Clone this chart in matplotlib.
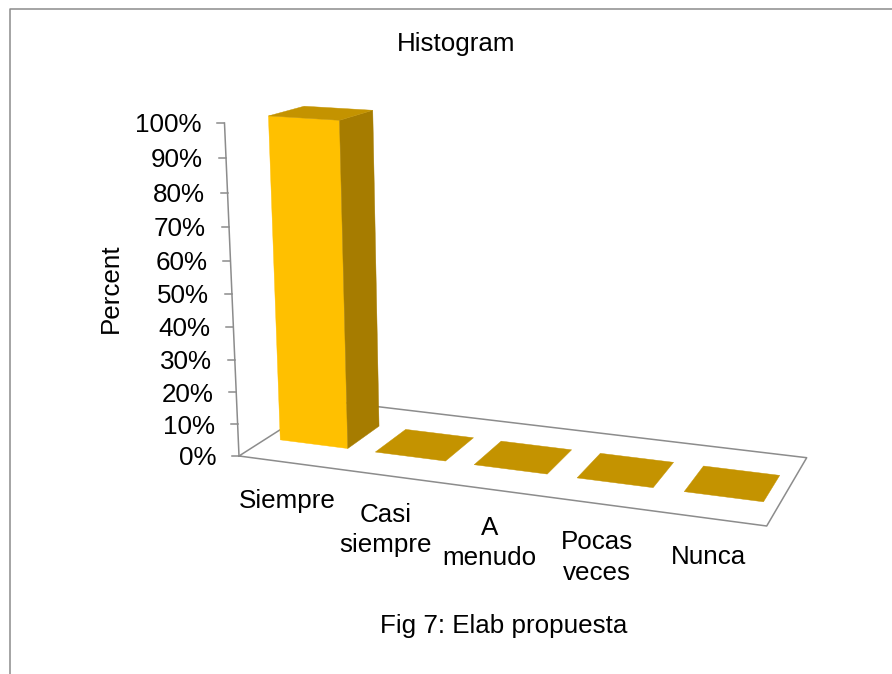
import numpy as np
import matplotlib.pyplot as plt
from matplotlib.patches import Polygon

# data
categories = ['Siempre', 'Casi\nsiempre', 'A\nmenudo', 'Pocas\nveces', 'Nunca']
percent = [100, 0, 0, 0, 0]
yticks = [0, 10, 20, 30, 40, 50, 60, 70, 80, 90, 100]
ytick_labels = [f'{t}%' for t in yticks]

plt.rcParams['font.family'] = ['Liberation Sans', 'DejaVu Sans']
FS = 18.7
GRAY = '#8c8c8c'
FRONT, SIDE, TOP = '#FFC000', '#A67C00', '#C49300'

W, H = 892, 674
fig = plt.figure(figsize=(W / 100, H / 100), dpi=100)
ax = fig.add_axes([0, 0, 1, 1])
ax.set_xlim(0, W)
ax.set_ylim(H, 0)
ax.axis('off')

# camera: floor corners (category, depth) -> pixels, plus vertical vanishing point
floor_uv = np.array([[0, 0], [5, 0], [5, 1], [0, 1]], float)
floor_px = np.array([[239, 456], [766.7, 526], [806.7, 457.7], [326, 400.5]])
vert_vp = np.array([498.0, 6400.0, 1.0])
axis_top = np.array([225.3, 123.5, 1.0])


def homography(src, dst):
    rows = []
    for (x, y), (u, v) in zip(src, dst):
        rows.append([x, y, 1, 0, 0, 0, -u * x, -u * y, -u])
        rows.append([0, 0, 0, x, y, 1, -v * x, -v * y, -v])
    _, _, vt = np.linalg.svd(np.array(rows))
    return vt[-1].reshape(3, 3)


Hm = homography(floor_uv, floor_px)
M = np.column_stack([vert_vp, -axis_top])
lam, mu = np.linalg.lstsq(M, -Hm[:, 2], rcond=None)[0]
P = np.column_stack([Hm[:, 0], lam * vert_vp, Hm[:, 1], Hm[:, 2]])


def proj(X, Y, Z):
    p = P @ np.array([X, Y, Z, 1.0])
    return p[:2] / p[2]


def face(pts, color, z):
    ax.add_patch(Polygon([proj(*p) for p in pts], closed=True, facecolor=color,
                         edgecolor=color, lw=0.3, zorder=z))


# frame around the chart
ax.plot([9.5, 9.5, W], [H, 8.5, 8.5], color=GRAY, lw=1.1, zorder=0)

# floor outline
corners = [proj(0, 0, 0), proj(5, 0, 0), proj(5, 0, 1), proj(0, 0, 1), proj(0, 0, 0)]
ax.plot([c[0] for c in corners], [c[1] for c in corners], color=GRAY, lw=1.1, zorder=1)

# vertical axis + ticks
a0, a1 = proj(0, 0, 0), proj(0, 1, 0)
ax.plot([a0[0], a1[0]], [a0[1], a1[1]], color=GRAY, lw=1.1, zorder=1)
for t, lab in zip(yticks, ytick_labels):
    px, py = proj(0, t / 100, 0)
    ax.plot([px - 7, px], [py, py], color=GRAY, lw=1.1, zorder=1)
    ax.text(px - 23, py + 9.3, lab, ha='right', va='baseline', fontsize=FS)

# bars (gap width / gap depth as fractions of a category cell)
gap, z0, z1 = 0.143, 0.30, 0.69
for i in reversed(range(len(categories))):
    x0, x1, h = i + gap, i + 1 - gap, percent[i] / 100
    if h > 0:
        face([(x0, 0, z0), (x1, 0, z0), (x1, h, z0), (x0, h, z0)], FRONT, 3)
        face([(x1, 0, z0), (x1, 0, z1), (x1, h, z1), (x1, h, z0)], SIDE, 3)
    face([(x0, h, z0), (x1, h, z0), (x1, h, z1), (x0, h, z1)], TOP, 3)

# category labels
for i, lab in enumerate(categories):
    px, py = proj(i + 0.5, 0, 0)
    ax.text(px, py + 27, lab, ha='center', va='top', fontsize=FS, linespacing=1.33)

ax.text(456, 44, 'Histogram', ha='center', va='center', fontsize=FS)
ax.text(111, 288, 'Percent', ha='center', va='center', rotation=90, fontsize=FS)
ax.text(504, 626, 'Fig 7: Elab propuesta', ha='center', va='center', fontsize=FS)

fig.savefig('out.png', dpi=100)
